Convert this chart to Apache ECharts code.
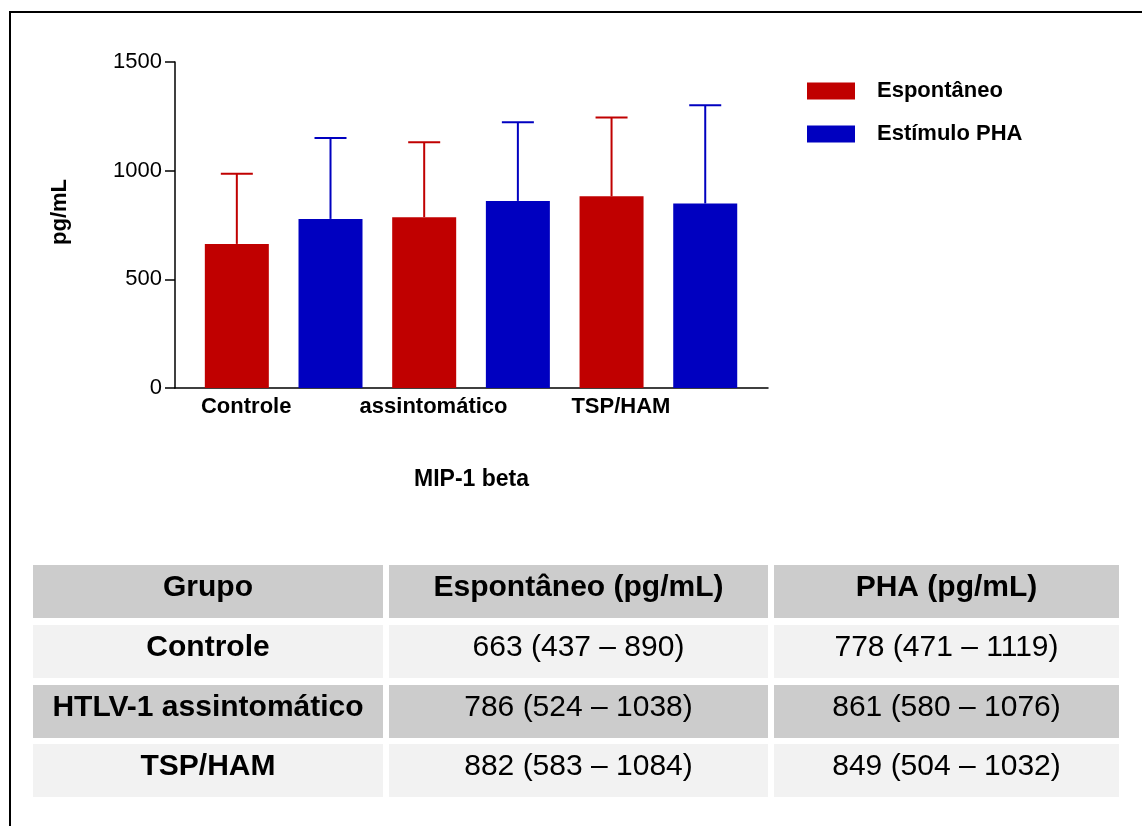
<!DOCTYPE html>
<html><head><meta charset="utf-8">
<script src="https://cdn.jsdelivr.net/npm/echarts@6/dist/echarts.min.js"></script>
<style>html,body{margin:0;padding:0;background:#fff}#c{width:1142px;height:826px}</style>
</head><body><div id="c"></div>
<script>
// ---- data ----
const groups = ['Controle', 'assintomático', 'TSP/HAM'];
const tableGroups = ['Controle', 'HTLV-1 assintomático', 'TSP/HAM'];
const seriesNames = ['Espontâneo', 'Estímulo PHA'];
const espMean = [663, 786, 882];
const phaMean = [778, 861, 849];
const espUpper = [986, 1131, 1245];
const phaUpper = [1150, 1223, 1301];
const yTicks = [0, 500, 1000, 1500];
const tableHeader = ['Grupo', 'Espontâneo (pg/mL)', 'PHA (pg/mL)'];
const espLow = [437, 524, 583];
const espHigh = [890, 1038, 1084];
const phaLow = [471, 580, 504];
const phaHigh = [1119, 1076, 1032];

// ---- styling / layout ----
const FONT = '"Liberation Sans", Arial, Helvetica, sans-serif';
const RED = '#c00000', BLUE = '#0000c0';
const labelShift = 0.1;

const chart = echarts.init(document.getElementById('c'), null, {renderer: 'canvas'});

function errItem(params, api) {
  const x = api.value(0);
  const lo = api.coord([x, api.value(1)]);
  const hi = api.coord([x, api.value(2)]);
  const color = api.visual('color');
  return {type: 'group', children: [
    {type: 'line', shape: {x1: lo[0], y1: lo[1], x2: hi[0], y2: hi[1]}, style: {stroke: color, lineWidth: 2}},
    {type: 'line', shape: {x1: hi[0] - 16, y1: hi[1], x2: hi[0] + 16, y2: hi[1]}, style: {stroke: color, lineWidth: 2}}
  ]};
}

// table graphics
const colX = [33, 389, 774], colW = [350, 379, 345];
const rowY = [565, 625, 685, 744], rowH = 53;
const rowFill = ['#cccccc', '#f2f2f2', '#cccccc', '#f2f2f2'];
const rows = [tableHeader].concat(tableGroups.map((g, i) => [
  g,
  espMean[i] + ' (' + espLow[i] + ' – ' + espHigh[i] + ')',
  phaMean[i] + ' (' + phaLow[i] + ' – ' + phaHigh[i] + ')'
]));
const graphics = [{
  type: 'polyline', shape: {points: [[10, 826], [10, 12], [1142, 12]]},
  style: {stroke: '#000', lineWidth: 2, fill: null}
}];
rows.forEach((row, r) => {
  row.forEach((txt, c) => {
    graphics.push({type: 'rect', shape: {x: colX[c], y: rowY[r], width: colW[c], height: rowH}, style: {fill: rowFill[r]}, z: 1});
    graphics.push({type: 'text', x: colX[c] + colW[c] / 2, y: rowY[r] + 23, z: 2,
      style: {text: txt, fill: '#000', align: 'center', verticalAlign: 'middle',
        fontSize: 30, fontFamily: FONT, fontWeight: (r === 0 || c === 0) ? 'bold' : 'normal'}});
  });
});

const option = {
  animation: false,
  backgroundColor: '#fff',
  textStyle: {fontFamily: FONT, color: '#000'},
  grid: {left: 175, top: 62, width: 593, height: 326, containLabel: false},
  legend: {
    orient: 'vertical', left: 802, top: 75, itemWidth: 48, itemHeight: 17, itemGap: 21,
    icon: 'rect', data: seriesNames,
    textStyle: {fontSize: 22, fontWeight: 'bold', fontFamily: FONT, color: '#000', padding: [0, 0, 0, 17]}
  },
  xAxis: {
    type: 'value', min: -0.66, max: 5.67,
    axisLine: {show: true, onZero: false, lineStyle: {color: '#000', width: 1.5}},
    axisTick: {show: false}, splitLine: {show: false},
    axisLabel: {
      customValues: groups.map((g, i) => 2 * i + labelShift),
      formatter: v => groups[Math.round((v - labelShift) / 2)] || '',
      fontSize: 22, fontWeight: 'bold', color: '#000', fontFamily: FONT, margin: 8
    },
    name: 'MIP-1 beta', nameLocation: 'middle', nameGap: 80,
    nameTextStyle: {fontSize: 23, fontWeight: 'bold', color: '#000', fontFamily: FONT}
  },
  yAxis: {
    type: 'value', min: yTicks[0], max: yTicks[yTicks.length - 1], interval: yTicks[1] - yTicks[0],
    axisLine: {show: true, onZero: false, lineStyle: {color: '#000', width: 1.5}},
    axisTick: {show: true, inside: false, length: 10, lineStyle: {color: '#000', width: 1.5}},
    splitLine: {show: false},
    axisLabel: {fontSize: 22, color: '#000', fontFamily: FONT, margin: 13, formatter: v => String(v)},
    name: 'pg/mL', nameLocation: 'middle', nameRotate: 90, nameGap: 104,
    nameTextStyle: {fontSize: 22, fontWeight: 'bold', color: '#000', fontFamily: FONT, padding: [0, 0, 0, 26]}
  },
  series: [
    {name: seriesNames[0], type: 'bar', barWidth: 64, barGap: '-100%',
      itemStyle: {color: RED}, data: espMean.map((m, i) => [2 * i, m])},
    {name: seriesNames[1], type: 'bar', barWidth: 64, barGap: '-100%',
      itemStyle: {color: BLUE}, data: phaMean.map((m, i) => [2 * i + 1, m])},
    {name: 'err-esp', type: 'custom', renderItem: errItem, itemStyle: {color: RED},
      encode: {x: 0, y: [1, 2]}, z: 3, data: espMean.map((m, i) => [2 * i, m, espUpper[i]])},
    {name: 'err-pha', type: 'custom', renderItem: errItem, itemStyle: {color: BLUE},
      encode: {x: 0, y: [1, 2]}, z: 3, data: phaMean.map((m, i) => [2 * i + 1, m, phaUpper[i]])}
  ],
  graphic: graphics
};
chart.setOption(option);
</script>
</body></html>
